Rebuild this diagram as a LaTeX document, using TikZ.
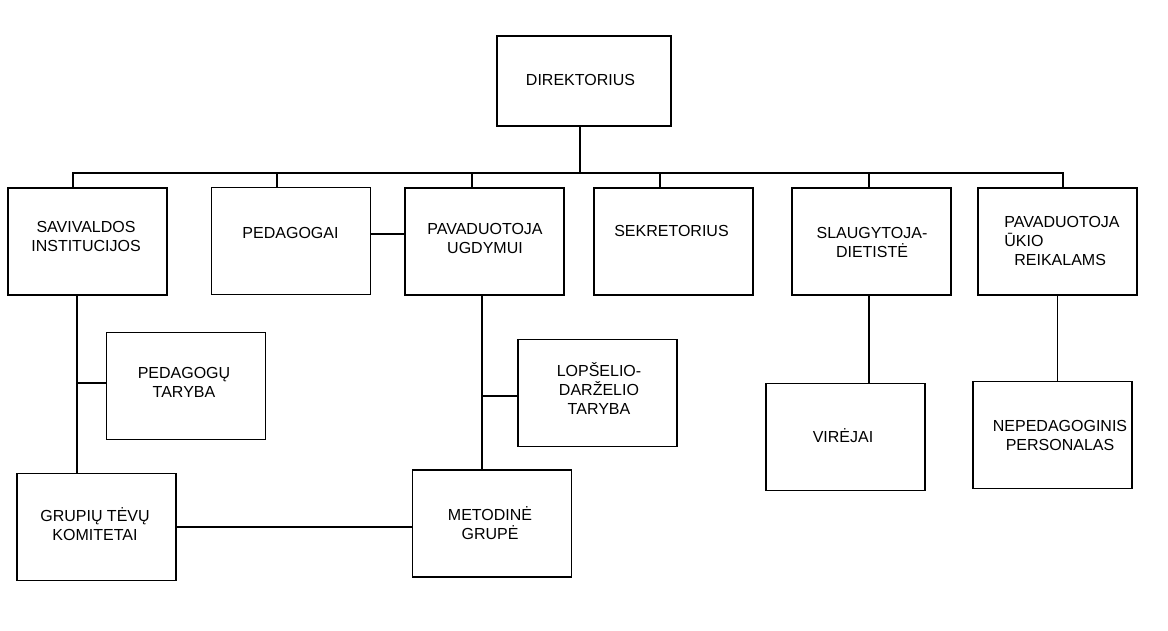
\documentclass[tikz,border=0pt]{standalone}
\usepackage{fontspec}
\setmainfont{Liberation Sans}
\usepackage{tikz}

\begin{document}
\begin{tikzpicture}[x=1pt, y=-1pt,
                box/.style={draw, line width=1.1pt, minimum width=159pt, minimum height=107pt, inner sep=0pt},
                lbl/.style={align=center, inner sep=0pt, font=\fontsize{16}{19}\selectfont},
                link/.style={line width=1.1pt}]
                \useasboundingbox (0,0) rectangle (1168,631);
                \coordinate (bus) at (580,173);
                \node[box, minimum width=174pt, minimum height=90pt] (dir) at (584,81) {};
                \node[box] (sav) at (87.5,241.5) {};
                \node[box] (ped) at (291,241) {};
                \node[box] (pug) at (484.5,241.5) {};
                \node[box] (sek) at (673.5,241.5) {};
                \node[box] (sla) at (871.5,241.5) {};
                \node[box] (puk) at (1057.5,241.5) {};
                \node[box] (pt) at (186,386) {};
                \node[box] (ldt) at (597.5,393) {};
                \node[box] (vir) at (845.5,437) {};
                \node[box] (nep) at (1052.5,435) {};
                \node[box] (gtk) at (96.5,527) {};
                \node[box] (met) at (492,523.5) {};
                \node[lbl] (dirt) at (580.5,80) {DIREKTORIUS};
                \node[lbl] (savt) at (86,236) {SAVIVALDOS\\INSTITUCIJOS};
                \node[lbl] (pedt) at (290.5,233) {PEDAGOGAI};
                \node[lbl] (pugt) at (485,238.5) {PAVADUOTOJA\\UGDYMUI};
                \node[lbl] (sekt) at (671.5,231) {SEKRETORIUS};
                \node[lbl] (slat) at (872,242.5) {SLAUGYTOJA-\\DIETISTĖ};
                \node[lbl, align=left] (pukt) at (1062,241) {PAVADUOTOJA\\ŪKIO\\\hspace*{10pt}REIKALAMS};
                \node[lbl] (ptt) at (184,382.5) {PEDAGOGŲ\\TARYBA};
                \node[lbl] (ldtt) at (599,389) {LOPŠELIO-\\DARŽELIO\\TARYBA};
                \node[lbl] (virt) at (843,436) {VIRĖJAI};
                \node[lbl] (nept) at (1060,435.5) {NEPEDAGOGINIS\\PERSONALAS};
                \node[lbl] (gtkt) at (95,524.5) {GRUPIŲ TĖVŲ\\KOMITETAI};
                \node[lbl] (mett) at (490,523.5) {METODINĖ\\GRUPĖ};
                \draw[link] ([xshift=-4pt]dir.south) -- (bus);
                \draw[link] ([xshift=-14.5pt]sav.north) |- (bus);
                \draw[link] ([xshift=-14pt]ped.north) |- (bus);
                \draw[link] ([xshift=-12.5pt]pug.north) |- (bus);
                \draw[link] ([xshift=-13.5pt]sek.north) |- (bus);
                \draw[link] ([xshift=-2.5pt]sla.north) |- (bus);
                \draw[link] ([xshift=5.5pt]puk.north) |- (bus);
                \draw[link] ([yshift=7pt]ped.east) -- ([yshift=7pt]ped.east -| pug.west);
                \draw[link] ([xshift=-10.5pt]sav.south) coordinate (s1) -- (s1 |- gtk.north);
                \draw[link] ([yshift=3pt]pt.west) -- ([yshift=3pt]pt.west -| s1);
                \draw[link] ([xshift=-2.5pt]pug.south) coordinate (u1) -- (u1 |- met.north);
                \draw[link] ([yshift=-3pt]ldt.west) -- ([yshift=-3pt]ldt.west -| u1);
                \draw[link] (gtk.east) -- (gtk.east -| met.west);
                \draw[link] ([xshift=-2.5pt]sla.south) -- ([xshift=-2.5pt]sla.south |- vir.north);
                \draw[link] (puk.south) -- (puk.south |- nep.north);
            \end{tikzpicture}
\end{document}
